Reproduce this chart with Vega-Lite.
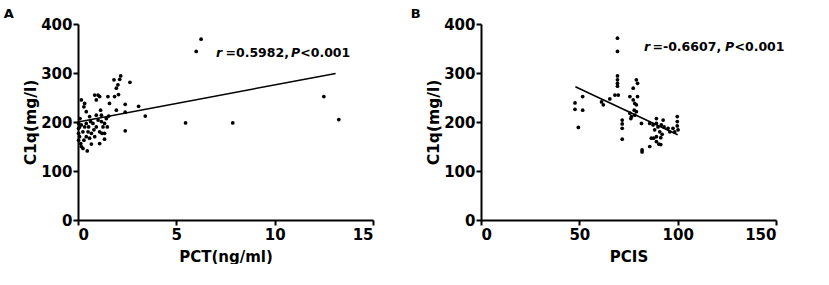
{
  "$schema": "https://vega.github.io/schema/vega-lite/v6.json",
  "padding": {"left": 3, "top": 8, "right": 0, "bottom": 0},
  "spacing": 36,
  "config": {
    "view": {"stroke": null},
    "font": "DejaVu Sans",
    "axis": {"domainColor": "black", "domainWidth": 2, "tickColor": "black", "tickWidth": 2, "tickSize": 5, "grid": false, "labelFont": "DejaVu Sans", "labelFontSize": 15, "labelFontWeight": "bold", "labelColor": "black", "titleFont": "DejaVu Sans", "titleFontSize": 15, "titleFontWeight": "bold", "titleColor": "black"},
    "axisY": {"labelPadding": 1, "titlePadding": 2, "titleFontSize": 15.5},
    "axisX": {"labelPadding": 2, "titlePadding": 7},
    "title": {"anchor": "start", "frame": "bounds", "fontSize": 13, "fontWeight": "bold", "font": "DejaVu Sans", "color": "black", "offset": -4}
  },
  "datasets": {
    "ptsA": [
      {"pct": 6.26, "c1q": 369}, {"pct": 6.01, "c1q": 344}, {"pct": 12.5, "c1q": 252}, {"pct": 13.26, "c1q": 205},
      {"pct": 5.47, "c1q": 198}, {"pct": 7.87, "c1q": 198}, {"pct": 3.42, "c1q": 212}, {"pct": 3.08, "c1q": 232},
      {"pct": 2.64, "c1q": 281}, {"pct": 2.4, "c1q": 182}, {"pct": 2.4, "c1q": 236}, {"pct": 2.4, "c1q": 220},
      {"pct": 2.17, "c1q": 294}, {"pct": 2.12, "c1q": 287}, {"pct": 2.03, "c1q": 276}, {"pct": 1.95, "c1q": 269},
      {"pct": 1.83, "c1q": 286}, {"pct": 1.86, "c1q": 252}, {"pct": 2.06, "c1q": 256}, {"pct": 1.95, "c1q": 224},
      {"pct": 1.52, "c1q": 252}, {"pct": 1.6, "c1q": 238}, {"pct": 1.56, "c1q": 212}, {"pct": 1.49, "c1q": 190},
      {"pct": 1.35, "c1q": 177}, {"pct": 1.35, "c1q": 165}, {"pct": 1.19, "c1q": 214}, {"pct": 1.15, "c1q": 224},
      {"pct": 1.1, "c1q": 252}, {"pct": 1.02, "c1q": 255}, {"pct": 0.93, "c1q": 245}, {"pct": 0.85, "c1q": 255},
      {"pct": 1.02, "c1q": 204}, {"pct": 0.93, "c1q": 190}, {"pct": 1.1, "c1q": 180}, {"pct": 1.1, "c1q": 156},
      {"pct": 0.85, "c1q": 170}, {"pct": 0.68, "c1q": 177}, {"pct": 0.68, "c1q": 155}, {"pct": 0.54, "c1q": 190},
      {"pct": 0.59, "c1q": 211}, {"pct": 0.42, "c1q": 221}, {"pct": 0.34, "c1q": 238}, {"pct": 0.17, "c1q": 245},
      {"pct": 0.3, "c1q": 231}, {"pct": 0.47, "c1q": 141}, {"pct": 0.25, "c1q": 146}, {"pct": 0.17, "c1q": 150},
      {"pct": 0.08, "c1q": 170}, {"pct": 0.03, "c1q": 177}, {"pct": 0.08, "c1q": 190}, {"pct": 0.03, "c1q": 197},
      {"pct": 0.17, "c1q": 194}, {"pct": 0.34, "c1q": 190}, {"pct": 0.42, "c1q": 197}, {"pct": 0.25, "c1q": 180},
      {"pct": 0.42, "c1q": 170}, {"pct": 0.59, "c1q": 167}, {"pct": 0.3, "c1q": 163}, {"pct": 0.14, "c1q": 156},
      {"pct": 0.76, "c1q": 197}, {"pct": 0.81, "c1q": 184}, {"pct": 1.19, "c1q": 201}, {"pct": 1.27, "c1q": 190},
      {"pct": 1.35, "c1q": 197}, {"pct": 1.44, "c1q": 207}, {"pct": 1.22, "c1q": 177}, {"pct": 0.51, "c1q": 180},
      {"pct": 0.64, "c1q": 201}, {"pct": 0.93, "c1q": 214}, {"pct": 0.03, "c1q": 187}, {"pct": 0.03, "c1q": 163},
      {"pct": 0.1, "c1q": 207}
    ],
    "lineA": [{"pct": 0, "c1q": 200}, {"pct": 13.1, "c1q": 299}],
    "itA": [{"pct": 7.02, "c1q": 340, "t": "r"}, {"pct": 10.83, "c1q": 340, "t": "P"}],
    "txtA": [{"pct": 7.5, "c1q": 340, "t": "=0.5982,"}, {"pct": 11.3, "c1q": 340, "t": "<0.001"}],
    "ptsB": [
      {"pcis": 47.8, "c1q": 239}, {"pcis": 47.8, "c1q": 226}, {"pcis": 49.5, "c1q": 189}, {"pcis": 51.7, "c1q": 252},
      {"pcis": 51.7, "c1q": 224}, {"pcis": 61.3, "c1q": 241}, {"pcis": 62.2, "c1q": 235}, {"pcis": 65.5, "c1q": 247},
      {"pcis": 68.1, "c1q": 255}, {"pcis": 69.8, "c1q": 255}, {"pcis": 69.4, "c1q": 371}, {"pcis": 69.4, "c1q": 344},
      {"pcis": 69.4, "c1q": 294}, {"pcis": 69.4, "c1q": 286}, {"pcis": 69.4, "c1q": 279}, {"pcis": 69.4, "c1q": 273},
      {"pcis": 71.8, "c1q": 204}, {"pcis": 71.8, "c1q": 196}, {"pcis": 71.8, "c1q": 187}, {"pcis": 71.8, "c1q": 165},
      {"pcis": 75.7, "c1q": 252}, {"pcis": 75.7, "c1q": 218}, {"pcis": 76.2, "c1q": 207}, {"pcis": 77.4, "c1q": 269},
      {"pcis": 77.4, "c1q": 245}, {"pcis": 77.9, "c1q": 224}, {"pcis": 78.2, "c1q": 214}, {"pcis": 79.0, "c1q": 286},
      {"pcis": 79.6, "c1q": 279}, {"pcis": 79.6, "c1q": 252}, {"pcis": 79.0, "c1q": 235}, {"pcis": 79.0, "c1q": 221},
      {"pcis": 78.2, "c1q": 238}, {"pcis": 76.5, "c1q": 211}, {"pcis": 81.6, "c1q": 197}, {"pcis": 81.9, "c1q": 143},
      {"pcis": 81.9, "c1q": 139}, {"pcis": 85.8, "c1q": 150}, {"pcis": 85.8, "c1q": 197}, {"pcis": 86.6, "c1q": 167},
      {"pcis": 87.5, "c1q": 194}, {"pcis": 88.3, "c1q": 184}, {"pcis": 89.2, "c1q": 207}, {"pcis": 89.2, "c1q": 197},
      {"pcis": 89.2, "c1q": 170}, {"pcis": 89.2, "c1q": 160}, {"pcis": 90.0, "c1q": 190}, {"pcis": 90.9, "c1q": 180},
      {"pcis": 91.4, "c1q": 168}, {"pcis": 91.4, "c1q": 154}, {"pcis": 91.7, "c1q": 194}, {"pcis": 92.1, "c1q": 175},
      {"pcis": 93.1, "c1q": 190}, {"pcis": 95.1, "c1q": 187}, {"pcis": 96.0, "c1q": 180}, {"pcis": 97.6, "c1q": 187},
      {"pcis": 98.5, "c1q": 180}, {"pcis": 99.8, "c1q": 211}, {"pcis": 99.8, "c1q": 201}, {"pcis": 99.8, "c1q": 192},
      {"pcis": 100.2, "c1q": 184}, {"pcis": 87.8, "c1q": 167}, {"pcis": 90.4, "c1q": 155}, {"pcis": 92.6, "c1q": 204}
    ],
    "lineB": [{"pcis": 48, "c1q": 272}, {"pcis": 100, "c1q": 174}],
    "itB": [{"pcis": 82.9, "c1q": 353, "t": "r"}, {"pcis": 124.1, "c1q": 353, "t": "P"}],
    "txtB": [{"pcis": 87.2, "c1q": 353, "t": "=-0.6607,"}, {"pcis": 128.9, "c1q": 353, "t": "<0.001"}]
  },
  "hconcat": [
    {
      "title": {"text": "A", "dx": -20},
      "width": 295,
      "height": 196,
      "encoding": {
        "x": {"field": "pct", "type": "quantitative", "scale": {"domain": [0, 15], "nice": false}, "axis": {"values": [0, 5, 10, 15], "title": "PCT(ng/ml)"}},
        "y": {"field": "c1q", "type": "quantitative", "scale": {"domain": [0, 400], "nice": false}, "axis": {"values": [0, 100, 200, 300, 400], "title": "C1q(mg/l)"}}
      },
      "layer": [
        {"data": {"name": "ptsA"}, "mark": {"type": "circle", "size": 14, "color": "black", "opacity": 1}},
        {"data": {"name": "lineA"}, "mark": {"type": "line", "color": "black", "strokeWidth": 1.5}},
        {"data": {"name": "itA"}, "mark": {"type": "text", "align": "left", "baseline": "middle", "fontSize": 12.5, "fontWeight": "bold", "fontStyle": "italic", "color": "black", "font": "DejaVu Sans"}, "encoding": {"text": {"field": "t"}}},
        {"data": {"name": "txtA"}, "mark": {"type": "text", "align": "left", "baseline": "middle", "fontSize": 12.5, "fontWeight": "bold", "color": "black", "font": "DejaVu Sans"}, "encoding": {"text": {"field": "t"}}}
      ]
    },
    {
      "title": {"text": "B", "dx": -16},
      "width": 295,
      "height": 196,
      "encoding": {
        "x": {"field": "pcis", "type": "quantitative", "scale": {"domain": [0, 150], "nice": false}, "axis": {"values": [0, 50, 100, 150], "title": "PCIS"}},
        "y": {"field": "c1q", "type": "quantitative", "scale": {"domain": [0, 400], "nice": false}, "axis": {"values": [0, 100, 200, 300, 400], "title": "C1q(mg/l)"}}
      },
      "layer": [
        {"data": {"name": "ptsB"}, "mark": {"type": "circle", "size": 14, "color": "black", "opacity": 1}},
        {"data": {"name": "lineB"}, "mark": {"type": "line", "color": "black", "strokeWidth": 1.5}},
        {"data": {"name": "itB"}, "mark": {"type": "text", "align": "left", "baseline": "middle", "fontSize": 12.5, "fontWeight": "bold", "fontStyle": "italic", "color": "black", "font": "DejaVu Sans"}, "encoding": {"text": {"field": "t"}}},
        {"data": {"name": "txtB"}, "mark": {"type": "text", "align": "left", "baseline": "middle", "fontSize": 12.5, "fontWeight": "bold", "color": "black", "font": "DejaVu Sans"}, "encoding": {"text": {"field": "t"}}}
      ]
    }
  ]
}
